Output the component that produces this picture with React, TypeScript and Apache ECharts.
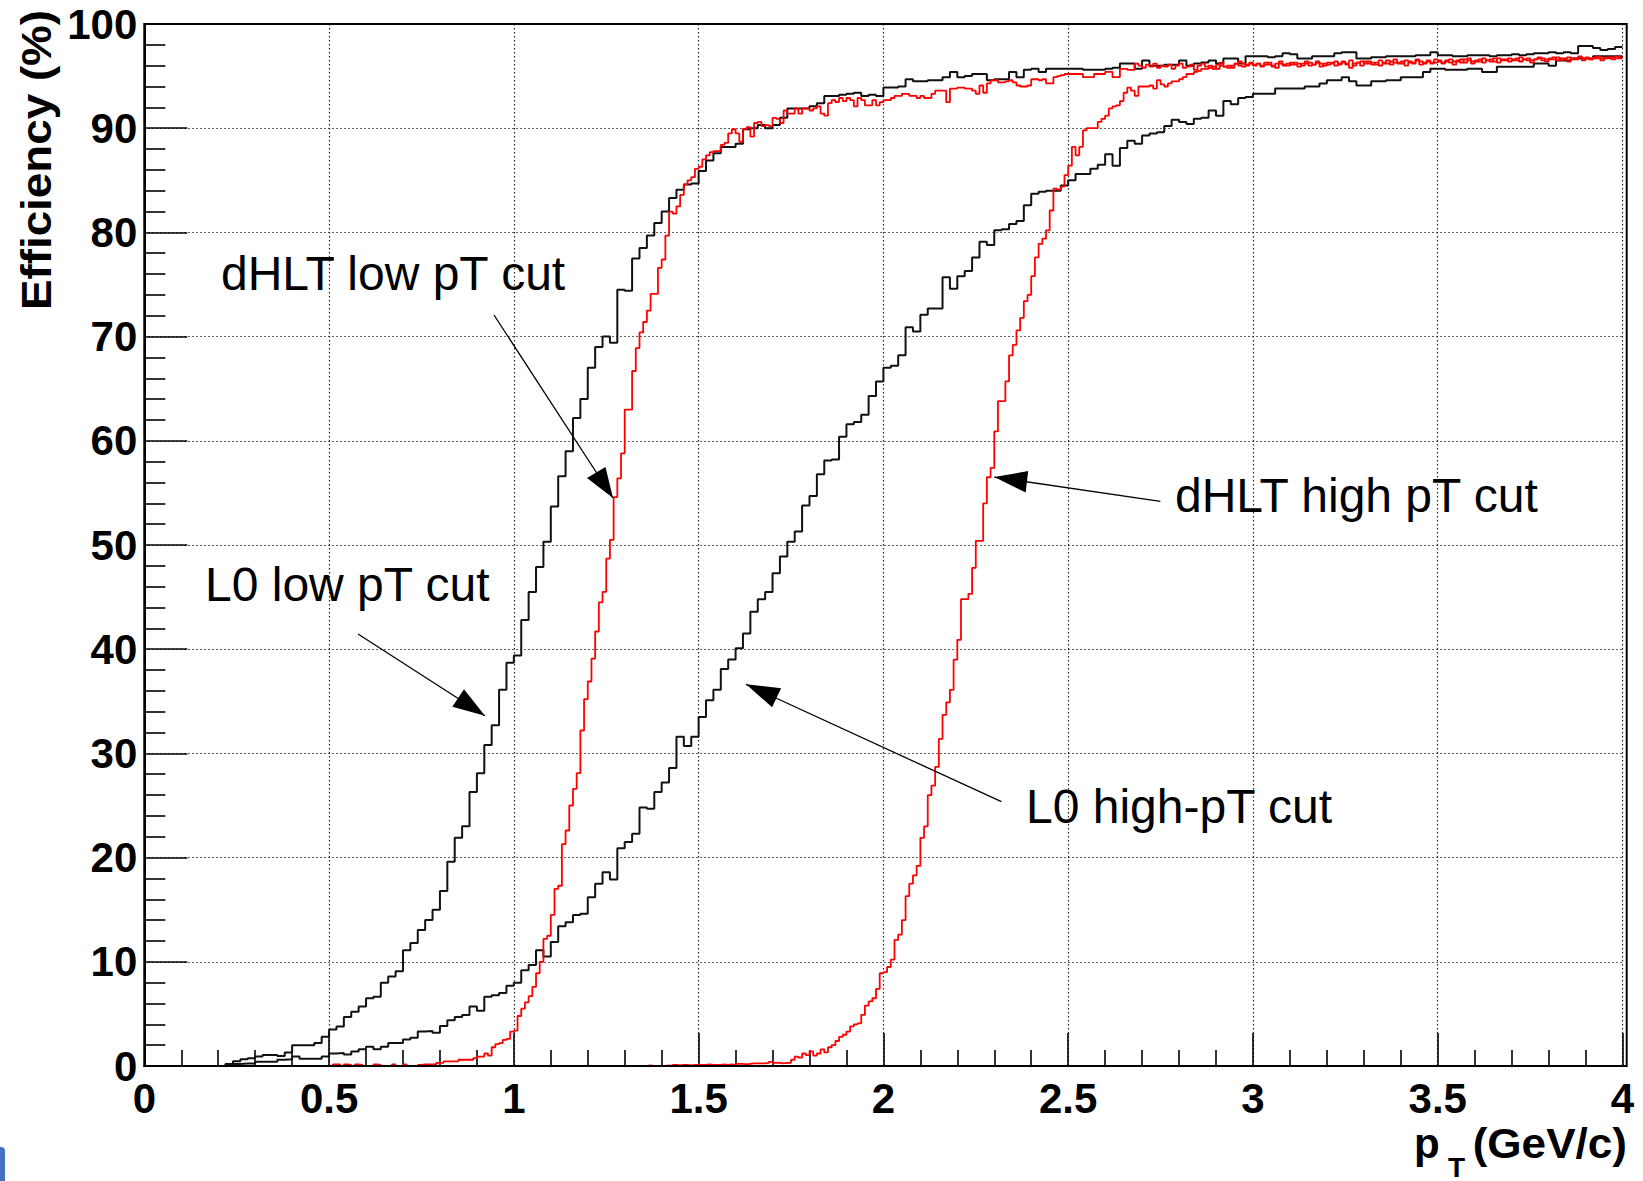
import React, { useEffect, useRef } from "react";
import * as echarts from "echarts";

// ---- axes ----
const X_MIN = 0;
const X_MAX = 4;
const X_STEP = 0.5;
const Y_MIN = 0;
const Y_MAX = 100;
const Y_STEP = 10;

// ---- histogram binning ----
const BLACK_START = 0.2; // first bin low edge (GeV/c)
const BLACK_W = 0.02; // bin width
const RED_START = 0.2;
const RED_W = 0.01;

// L0 low pT cut (black), bins of 0.02 starting at 0.20
const L0_LOW = [
  0, 0.2, 0.45, 0.64, 0.75, 0.9, 1.05, 1.05, 0.95, 1.3,
  2.0, 2.0, 2.0, 2.2, 2.8, 3.5, 3.8, 4.7, 5.2, 5.7,
  6.5, 6.65, 8.0, 8.6, 9.1, 11.1, 11.8, 13.05, 14.0, 15.0,
  16.8, 19.6, 21.9, 23.0, 26.3, 28.1, 30.8, 32.7, 36.1, 38.7,
  39.4, 42.8, 45.5, 47.9, 50.3, 53.7, 56.6, 59.0, 62.2, 64.0,
  67.0, 69.0, 70.0, 69.4, 74.5, 74.4, 77.5, 78.5, 79.7, 80.9,
  82.0, 83.3, 84.1, 84.6, 84.7, 85.9, 86.9, 87.6, 88.2, 88.2,
  88.5, 89.9, 90.0, 90.3, 90.0, 90.3, 91.0, 91.9, 91.9, 91.9,
  92.1, 92.4, 93.1, 93.1, 93.2, 93.3, 93.4, 93.1, 93.2, 93.1,
  93.9, 93.9, 94.0, 94.7, 94.5, 94.5, 94.6, 94.6, 94.9, 95.4,
  94.9, 95.0, 95.2, 95.2, 94.6, 94.7, 94.7, 95.4, 94.9, 95.6,
  95.7, 95.4, 95.7, 95.7, 95.7, 95.7, 95.7, 95.6, 95.6, 95.6,
  95.7, 95.8, 96.2, 96.2, 95.7, 96.5, 96.0, 96.0, 96.1, 96.1,
  96.5, 96.0, 96.2, 96.3, 96.5, 96.2, 96.7, 96.7, 96.2, 96.9,
  96.9, 96.9, 96.8, 96.9, 97.2, 97.1, 96.7, 96.7, 96.9, 96.9,
  96.9, 97.2, 97.3, 97.3, 96.7, 96.7, 96.8, 96.8, 96.9, 96.9,
  96.9, 96.9, 97.0, 97.0, 97.3, 97.0, 97.0, 96.9, 96.9, 97.0,
  97.0, 97.0, 96.9, 97.0, 97.0, 97.1, 97.0, 97.1, 97.2, 97.2,
  97.3, 97.2, 97.3, 97.2, 97.9, 97.9, 97.7, 97.5, 97.6, 97.8,
];

// L0 high-pT cut (black), bins of 0.02 starting at 0.20
const L0_HIGH = [
  0, 0.2, 0.2, 0.25, 0.25, 0.4, 0.4, 0.4, 0.6, 0.65,
  0.9, 0.7, 0.7, 0.7, 0.9, 1.2, 1.25, 1.1, 1.4, 1.6,
  1.85, 1.6, 1.85, 2.2, 2.2, 2.55, 2.7, 3.3, 3.35, 3.2,
  3.85, 4.4, 4.7, 4.9, 5.7, 5.3, 6.65, 6.8, 7.0, 7.7,
  8.0, 9.2, 9.7, 11.1, 10.5, 11.9, 13.4, 13.8, 14.5, 14.6,
  16.2, 17.5, 18.6, 17.9, 20.9, 21.5, 22.3, 24.8, 24.7, 26.3,
  27.2, 28.6, 31.6, 30.7, 31.6, 33.5, 35.1, 36.1, 38.1, 39.0,
  40.1, 41.5, 43.6, 44.8, 45.5, 47.3, 48.9, 50.3, 51.3, 53.8,
  54.7, 56.8, 58.1, 58.2, 60.4, 61.6, 61.8, 62.5, 64.3, 65.7,
  67.0, 67.2, 68.2, 70.9, 70.5, 72.1, 72.7, 72.7, 75.7, 74.6,
  75.8, 76.3, 77.6, 79.1, 78.8, 80.2, 80.3, 80.8, 81.1, 82.6,
  83.7, 83.9, 84.0, 84.0, 84.5, 85.0, 85.6, 85.6, 86.1, 86.5,
  87.5, 86.4, 88.1, 88.8, 88.5, 89.3, 89.5, 89.6, 90.2, 90.8,
  90.6, 90.4, 90.9, 91.0, 91.7, 91.2, 92.6, 92.3, 92.9, 93.0,
  93.3, 93.3, 93.3, 93.8, 93.8, 93.8, 93.8, 94.0, 94.0, 94.3,
  94.6, 94.6, 94.9, 94.5, 94.1, 94.1, 94.5, 94.5, 94.6, 94.6,
  94.9, 94.9, 94.9, 95.4, 95.7, 95.7, 95.6, 95.6, 95.6, 95.7,
  95.7, 95.4, 95.4, 95.9, 95.9, 95.9, 95.9, 95.9, 96.2, 96.2,
  96.0, 96.5, 96.5, 96.7, 96.7, 96.7, 96.9, 96.9, 96.9, 96.9,
];

// dHLT low pT cut (red), bins of 0.01 starting at 0.20
const DHLT_LOW = [
  0, 0, 0, 0, 0, 0, 0, 0, 0, 0,
  0, 0, 0, 0, 0, 0, 0, 0, 0, 0,
  0, 0, 0, 0, 0, 0, 0, 0, 0, 0,
  0, 0.15, 0.15, 0, 0.15, 0.1, 0, 0.15, 0.1, 0,
  0, 0, 0.15, 0.1, 0, 0, 0, 0.15, 0, 0,
  0.15, 0, 0, 0, 0.1, 0.15, 0.15, 0.15, 0.15, 0.3,
  0.3, 0.45, 0.45, 0.45, 0.45, 0.6, 0.6, 0.6, 0.6, 0.75,
  0.9, 0.9, 1.2, 1.0, 1.8, 2.1, 2.2, 2.5, 2.6, 3.3,
  3.4, 4.8, 5.5, 6.1, 6.7, 7.6, 8.9, 10.0, 12.2, 12.5,
  14.5, 17.0, 17.3, 21.3, 22.6, 25.0, 26.6, 28.1, 32.2, 35.2,
  36.9, 39.1, 41.7, 44.5, 45.5, 48.7, 50.5, 54.6, 56.4, 58.8,
  63.0, 63.0, 66.7, 68.9, 70.4, 71.4, 72.5, 74.1, 74.1, 76.6,
  77.4, 79.7, 82.0, 81.8, 82.5, 83.6, 84.6, 85.0, 85.3, 86.1,
  86.3, 87.0, 87.4, 87.7, 87.8, 87.8, 88.4, 88.6, 89.5, 89.9,
  89.5, 88.7, 89.9, 90.1, 89.2, 90.5, 90.6, 90.2, 90.3, 90.2,
  91.0, 90.9, 90.5, 91.7, 91.4, 91.4, 91.9, 91.4, 91.9, 91.9,
  91.7, 91.9, 92.1, 91.4, 91.2, 92.4, 92.7, 92.5, 92.9, 92.6,
  92.9, 92.7, 92.1, 92.9, 92.7, 92.2, 92.2, 92.7, 92.2, 92.5,
  92.7, 92.7, 92.9, 93.1, 93.1, 93.3, 93.3, 93.1, 93.1, 92.9,
  93.1, 92.9, 92.9, 93.3, 93.6, 93.6, 93.6, 92.5, 93.8, 93.8,
  93.9, 93.9, 93.8, 93.8, 93.6, 93.3, 94.1, 93.4, 94.3, 94.6,
  94.6, 94.4, 94.4, 94.5, 94.6, 94.4, 94.1, 94.0, 94.0, 94.1,
  94.7, 94.7, 94.6, 94.7, 94.3, 94.3, 94.9, 95.0, 95.1, 95.2,
  95.2, 95.2, 95.2, 95.2, 94.9, 94.9, 94.9, 95.2, 95.2, 95.2,
  95.4, 95.4, 94.9, 94.9, 95.7, 95.7, 95.6, 95.6, 96.2, 96.0,
  95.8, 96.1, 95.9, 96.2, 95.8, 96.0, 95.9, 96.1, 95.7, 96.0,
  96.2, 95.8, 95.9, 96.1, 95.6, 96.0, 96.2, 95.9, 96.0, 95.7,
  96.1, 96.3, 95.9, 96.0, 95.8, 96.2, 96.0, 95.9, 96.1, 96.2,
  96.0, 96.2, 95.9, 96.1, 96.3, 96.0, 95.8, 96.2, 96.1, 96.0,
  96.3, 96.1, 95.9, 96.2, 96.4, 96.0, 96.1, 96.3, 95.9, 96.2,
  96.1, 96.3, 96.0, 96.2, 96.4, 96.1, 95.8, 96.2, 96.3, 96.0,
  96.4, 96.2, 96.1, 96.3, 96.0, 96.2, 96.5, 96.1, 96.3, 96.2,
  96.4, 96.0, 96.3, 96.2, 96.5, 96.1, 96.3, 96.4, 96.2, 96.3,
  96.4, 96.2, 96.5, 96.3, 96.1, 96.4, 96.6, 96.3, 96.5, 96.2,
  96.4, 96.6, 96.3, 96.5, 96.4, 96.7, 96.3, 96.5, 96.6, 96.4,
  96.5, 96.7, 96.4, 96.6, 96.5, 96.3, 96.6, 96.7, 96.5, 96.4,
  96.6, 96.8, 96.5, 96.7, 96.6, 96.4, 96.7, 96.6, 96.8, 96.5,
  96.7, 96.6, 96.8, 96.7, 96.5, 96.7, 96.8, 96.6, 96.7, 96.7,
];

// dHLT high pT cut (red), bins of 0.01 starting at 0.20
const DHLT_HIGH = [
  0, 0, 0, 0, 0, 0, 0, 0, 0, 0,
  0, 0, 0, 0, 0, 0, 0, 0, 0, 0,
  0, 0, 0, 0, 0, 0, 0, 0, 0, 0,
  0, 0, 0, 0, 0, 0, 0, 0, 0, 0,
  0, 0, 0, 0, 0, 0, 0, 0, 0, 0,
  0, 0, 0, 0, 0, 0, 0, 0, 0, 0,
  0, 0, 0, 0, 0, 0, 0, 0, 0, 0,
  0, 0, 0, 0, 0, 0, 0, 0, 0, 0,
  0, 0, 0, 0, 0, 0, 0, 0, 0, 0,
  0, 0, 0, 0, 0, 0, 0, 0, 0, 0,
  0, 0, 0, 0, 0, 0, 0, 0, 0, 0,
  0, 0, 0, 0, 0, 0, 0.05, 0, 0, 0,
  0, 0.05, 0, 0.1, 0.05, 0.1, 0.1, 0.05, 0.1, 0.1,
  0.1, 0.1, 0.15, 0.1, 0.1, 0.1, 0.15, 0.1, 0.15, 0.1,
  0.2, 0.2, 0.15, 0.2, 0.25, 0.25, 0.25, 0.25, 0.3, 0.4,
  0.3, 0.3, 0.25, 0.3, 0.3, 0.6, 0.9, 0.8, 1.2, 1.05,
  1.4, 1.0, 1.2, 1.6, 1.3, 1.8, 2.0, 2.4, 2.8, 3.0,
  3.3, 3.8, 4.0, 4.1, 4.9, 5.8, 6.2, 6.5, 7.4, 8.9,
  9.0, 9.5, 10.2, 12.1, 12.6, 14.0, 16.3, 17.5, 18.3, 19.2,
  21.9, 23.0, 26.0, 26.9, 28.7, 31.4, 33.7, 34.9, 36.1, 39.0,
  40.9, 44.8, 44.8, 45.3, 47.8, 50.4, 50.4, 54.0, 56.5, 57.4,
  60.9, 63.8, 63.8, 65.7, 68.2, 69.2, 70.6, 71.8, 73.4, 74.0,
  75.8, 77.6, 78.9, 79.4, 80.2, 82.1, 84.2, 84.1, 84.4, 85.5,
  86.4, 88.2, 87.4, 88.2, 89.8, 90.0, 90.0, 90.0, 90.6, 90.9,
  91.2, 91.9, 92.1, 92.2, 92.6, 93.4, 93.9, 93.6, 93.1, 94.0,
  94.0, 94.0, 94.1, 93.8, 94.6, 94.2, 94.0, 94.3, 94.5, 94.5,
  94.7, 94.9, 95.2, 95.2, 95.4, 95.5, 95.7, 95.7, 95.8, 95.9,
  95.7, 96.0, 95.9, 95.8, 96.0, 96.2, 96.4, 96.2, 96.0, 96.3,
  96.1, 96.2, 96.0, 96.3, 96.1, 95.9, 96.2, 96.4, 96.0, 96.2,
  96.1, 96.3, 96.2, 96.0, 96.2, 96.3, 96.1, 96.4, 96.2, 96.0,
  96.3, 96.2, 96.4, 96.1, 96.3, 96.2, 96.5, 96.0, 96.3, 96.4,
  96.2, 96.4, 96.3, 96.1, 96.5, 96.3, 96.2, 96.4, 96.6, 96.3,
  96.2, 96.5, 96.4, 96.3, 96.6, 96.4, 96.2, 96.5, 96.3, 96.6,
  96.5, 96.3, 96.4, 96.6, 96.4, 96.5, 96.3, 96.6, 96.7, 96.4,
  96.5, 96.4, 96.7, 96.5, 96.6, 96.4, 96.7, 96.6, 96.5, 96.7,
  96.6, 96.5, 96.8, 96.6, 96.7, 96.5, 96.6, 96.8, 96.7, 96.6,
  96.7, 96.6, 96.8, 96.5, 96.7, 96.8, 96.6, 96.7, 96.9, 96.7,
  96.8, 96.6, 96.7, 96.9, 96.7, 96.8, 96.7, 96.8, 96.9, 96.8,
];

// annotation labels
const LABELS = [
  { text: "dHLT low pT cut", x: 221, y: 273 },
  { text: "L0 low pT cut", x: 205, y: 584 },
  { text: "dHLT high pT cut", x: 1175, y: 495 },
  { text: "L0 high-pT cut", x: 1026, y: 806 },
];

// arrows: [startX, startY, tipX, tipY, corner1X, corner1Y, corner2X, corner2Y]
const ARROWS = [
  [494, 315, 613, 498, 587, 478, 605.5, 467],
  [358, 634, 485, 715.7, 452.3, 706.7, 464, 689.3],
  [1160.4, 501.4, 994.3, 477.1, 1028.2, 471.1, 1025.7, 492.5],
  [1001.4, 801.7, 746.1, 684.3, 781.1, 688.3, 772.1, 707.3],
];

const FONT = '"Liberation Sans", Arial, Helvetica, sans-serif';

function hist(start: number, w: number, vals: number[]) {
  const d: number[][] = vals.map((v, i) => [+(start + i * w).toFixed(4), v]);
  d.push([X_MAX, vals[vals.length - 1]]);
  return d;
}

export default function App() {
  const ref = useRef<HTMLDivElement>(null);

  useEffect(() => {
    document.body.style.margin = "0";
    document.body.style.overflow = "hidden";
    const chart = echarts.init(ref.current!, null, { renderer: "svg" });

    const gridLeft = 144.3;
    const gridTop = 24;
    const gridRight = 1643 - 1622.5;
    const gridBottom = 1181 - 1066;

    const mkSeries = (name: string, data: number[][], color: string, width: number) => ({
      name,
      type: "line",
      step: "end",
      symbol: "none",
      data,
      lineStyle: { color, width },
      itemStyle: { color },
      emphasis: { disabled: true },
      silent: true,
      clip: false,
    });

    const graphics: any[] = [
      {
        type: "rect",
        shape: { x: 144.3, y: 24, width: 1626.7 - 144.3, height: 1066 - 24 },
        style: { fill: "none", stroke: "#000", lineWidth: 2 },
        z: 5,
        silent: true,
      },
      {
        type: "text",
        x: 36,
        y: 160,
        rotation: Math.PI / 2,
        scaleX: 1.09,
        style: {
          text: "Efficiency (%)",
          font: `bold 42px ${FONT}`,
          fill: "#000",
          align: "center",
          verticalAlign: "middle",
        },
      },
      {
        type: "text",
        x: 1627,
        y: 1143,
        scaleX: 1.05,
        style: {
          text: "(GeV/c)",
          font: `bold 42px ${FONT}`,
          fill: "#000",
          align: "right",
          verticalAlign: "middle",
        },
      },
      {
        type: "text",
        x: 1414,
        y: 1143,
        style: {
          text: "p",
          font: `bold 42px ${FONT}`,
          fill: "#000",
          align: "left",
          verticalAlign: "middle",
        },
      },
      {
        type: "text",
        x: 1448,
        y: 1167,
        style: {
          text: "T",
          font: `bold 28px ${FONT}`,
          fill: "#000",
          align: "left",
          verticalAlign: "middle",
        },
      },
      {
        type: "rect",
        shape: { x: -6, y: 1147, width: 11, height: 40, r: 4 },
        style: { fill: "#4472c4" },
      },
    ];

    LABELS.forEach((l) => {
      graphics.push({
        type: "text",
        x: l.x,
        y: l.y,
        style: {
          text: l.text,
          font: `48px ${FONT}`,
          fill: "#000",
          align: "left",
          verticalAlign: "middle",
        },
        z: 10,
      });
    });

    ARROWS.forEach((a) => {
      graphics.push({
        type: "line",
        shape: { x1: a[0], y1: a[1], x2: a[2], y2: a[3] },
        style: { stroke: "#000", lineWidth: 1.3 },
        z: 10,
      });
      graphics.push({
        type: "polygon",
        shape: { points: [[a[2], a[3]], [a[4], a[5]], [a[6], a[7]]] },
        style: { fill: "#000" },
        z: 10,
      });
    });

    const option: any = {
      animation: false,
      backgroundColor: "#fff",
      grid: {
        left: gridLeft,
        top: gridTop,
        right: gridRight,
        bottom: gridBottom,
        containLabel: false,
        outerBoundsMode: "none",
      },
      xAxis: {
        type: "value",
        min: X_MIN,
        max: X_MAX,
        interval: X_STEP,
        axisLine: { show: true, lineStyle: { color: "#000", width: 2 } },
        axisTick: { show: true, inside: true, length: 33, lineStyle: { color: "#000", width: 1.6 } },
        minorTick: { show: true, splitNumber: 5, length: 16, lineStyle: { color: "#000", width: 1.6 } },
        splitLine: { show: true, lineStyle: { color: "#222", width: 1.2, type: [1.4, 2.6] } },
        axisLabel: {
          margin: 11,
          color: "#000",
          fontFamily: FONT,
          fontWeight: "bold",
          fontSize: 42,
        },
      },
      yAxis: {
        type: "value",
        min: Y_MIN,
        max: Y_MAX,
        interval: Y_STEP,
        axisLine: { show: true, lineStyle: { color: "#000", width: 2 } },
        axisTick: { show: true, inside: true, length: 43, lineStyle: { color: "#000", width: 1.6 } },
        minorTick: { show: true, splitNumber: 5, length: 21, lineStyle: { color: "#000", width: 1.6 } },
        splitLine: { show: true, lineStyle: { color: "#222", width: 1.2, type: [1.4, 2.6] } },
        axisLabel: {
          margin: 7,
          color: "#000",
          fontFamily: FONT,
          fontWeight: "bold",
          fontSize: 42,
        },
      },
      series: [
        mkSeries("L0 low pT cut", hist(BLACK_START, BLACK_W, L0_LOW), "#111", 2),
        mkSeries("L0 high-pT cut", hist(BLACK_START, BLACK_W, L0_HIGH), "#111", 2),
        mkSeries("dHLT low pT cut", hist(RED_START, RED_W, DHLT_LOW), "#ff0000", 1.8),
        mkSeries("dHLT high pT cut", hist(RED_START, RED_W, DHLT_HIGH), "#ff0000", 1.8),
      ],
      graphic: graphics,
    };

    chart.setOption(option);
    return () => chart.dispose();
  }, []);

  return <div ref={ref} style={{ width: 1643, height: 1181 }} />;
}
